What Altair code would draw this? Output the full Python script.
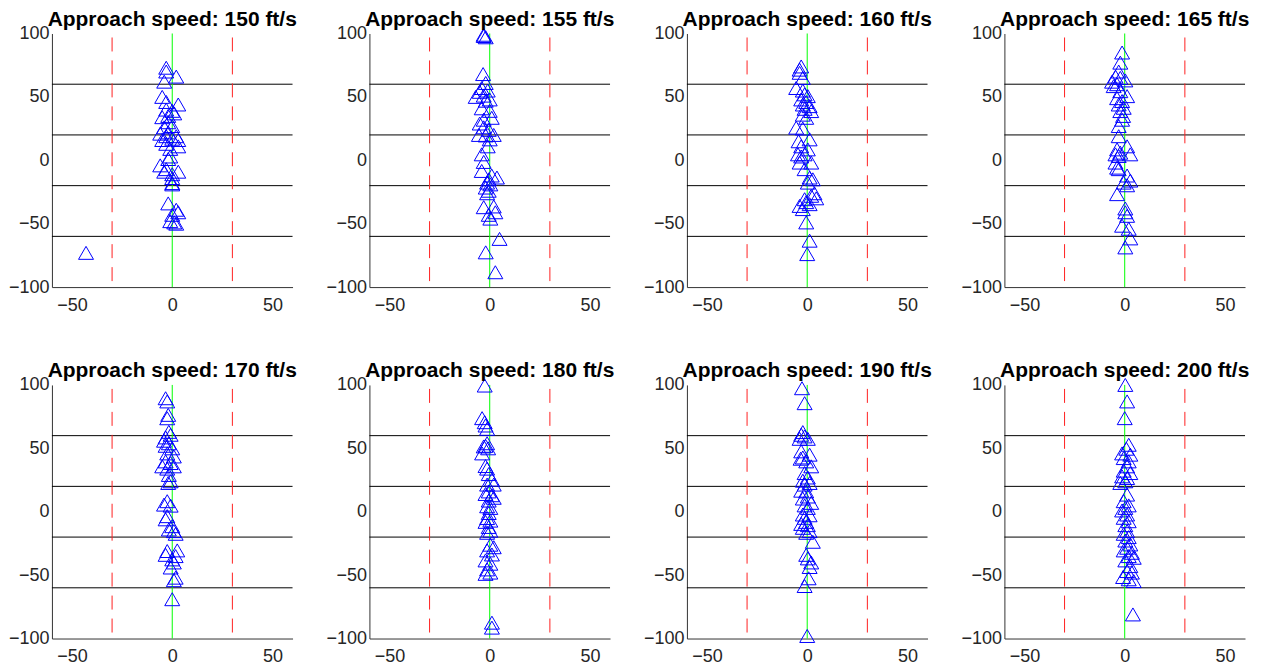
import altair as alt
import pandas as pd

SPEEDS = [150, 155, 160, 165, 170, 180, 190, 200]

X150 = [-3, -3, 2, -4, -5, -3, 3, -3, 0, 1, -5, -2, -2, -4, 0, -6, -2, -3, 2, 0, -5, 3, 3, -3, -1, -1, -2,
        -6, -3, -4, 3, 0, 0, 0, 0, -2, 2, 3, 0, -1, 1, 2, -43]
Y150 = [73, 70, 66, 62, 50, 46, 44, 40, 39, 37, 34, 35, 30, 26, 27, 21, 22, 19, 19, 17, 16, 16, 11, 13, 9, 3, 1,
        -4, -7, -9, -9, -11, -14, -18, -19, -34, -39, -41, -43, -48, -49, -50, -73]

X155 = [-3, -3, -2, -3.3, -2, -4, -5, -1, -7, -3, 0, -2, -4, 0, 1, -3, -5, -3, -0.5, -5.4, 2, -2, 0, -1, -4, -3,
        -4, 1, 3.6, -0.5, -1.3, 0.3, -2, -0.5, -1.3, -3, 2, 2.8, -0.5, 0.3, 4.9, -2, 2.8]
Y155 = [99, 98, 97, 68, 61, 57, 54, 55, 50, 51, 48, 47, 41, 39, 33.5, 32, 29, 26, 24, 20, 20, 19.6, 16.5, 11, 4.7,
        -1.3, -8.4, -12, -13.6, -15, -17.6, -19, -21.5, -24, -26, -37, -36.4, -41, -43, -46, -62, -72.6, -88.3]

X160 = [-3, -3.8, -3.8, -2.2, -5.5, -2.2, -1.3, 0.3, -3, -0.5, -2.2, 1.2, -1.3, 2, -2.2, -0.5, -5.5, -2.2, 1.2,
        -4.3, -3, 0.3, -4.6, -1.3, -3, 2, -3.8, -1.3, 1.2, 2.8, 0.3, 3.6, 2, 4.5, -1.3, -0.5, 1.2, -3.8, -2.2,
        -0.5, 1.2, 0]
Y160 = [74, 71.5, 69, 65, 57, 55, 52, 50.6, 48, 46, 44, 42.7, 40.6, 38.8, 36, 33.5, 25.7, 25, 16.5, 15, 11, 8.6,
        4.7, 4.7, 3, -1.8, -1.8, -7, -13.6, -15, -17.6, -26, -28, -30, -30.7, -33, -34.6, -36, -38.5, -49,
        -63.4, -74]

X165 = [-1.3, -2.2, -3, -4.6, -2.2, -6.3, 0.3, -3.8, -5.5, -2.2, 1.2, -3.8, -1.3, -3, -0.5, -2.2, -0.8, -1.3,
        -3, -3, 1.2, -3.8, 2.8, -2.2, -4.6, -3, -4.6, -3.8, -3, 1.2, 2.8, -0.5, 1.2, -3.8, 0.3, 0.3, 1.2, -1.3,
        2, 2.8, 0.3]
Y165 = [85, 77, 70, 66, 65, 62, 63, 60, 58.5, 54.5, 50.6, 49, 46.7, 44, 41.4, 38.8, 35, 32, 27, 19, 11, 8.6,
        4.7, 6, 4.7, 3.4, -1.8, -5.8, -7, -12, -16, -17.6, -19.7, -26.7, -38, -41, -43.8, -51.6, -54, -61.6,
        -68.7]

X170 = [-3.3, -2.5, -2, -2.5, -1.7, -0.8, -3.3, -4.1, -1.7, -3.3, 0, -2.5, 0.8, -3.3, -0.8, -5, 0.8, -2.5,
        -1.7, -0.8, -2, -2.5, -4.1, -0.8, -2.5, -3.3, 0, -1.7, 0.8, 1.7, 2.5, -2.5, -3.3, 1.7, 0, 0.8, -0.8,
        1.7, 0.8, 0]
Y170 = [89.5, 87, 76.4, 73.7, 63, 60.7, 58.6, 56, 54, 52, 50, 46, 43.6, 39.7, 38.4, 35.8, 35.8, 34, 29, 24,
        22.7, 8.3, 5.6, 4.8, -3.5, -6, -11.4, -14, -15.3, -17.4, -30.5, -31, -34, -35, -37.6, -40, -44, -52,
        -54, -69]

X180 = [-2.5, -3.8, -2.5, -2.1, -1.3, -1.3, -2.1, -0.8, -3, -3.8, -2.1, -1.3, -0.5, 1.1, 2, -1.3, -0.5, -2.1,
        1.1, 2, -0.5, -1.3, 0.3, -0.5, -1.3, 0.3, -2.1, -0.5, 0.3, -1.3, 0.3, 2, -1.3, 1.1, -2.1, 0.3, -1.3,
        0.3, -2.1, 1.1, 1.1]
Y180 = [99.5, 73.8, 70.6, 68, 65.4, 54, 52, 50, 51.5, 46, 36, 34, 29.7, 25.3, 21.4, 21.4, 16, 14, 13, 11, 8.8,
        4.3, 3, -1, -5, -7, -8, -12, -15, -16.6, -26, -28, -30.5, -33.7, -38.4, -41, -45.5, -48, -49, -87.5,
        -91.4]

X190 = [-2.6, -1.3, -2.2, -3, -1.3, -3.8, 0.3, -3, 1.2, -2.2, -3.3, -0.5, 2, -1.3, 0.3, -2.2, 1.2, -1.3, -3,
        -0.5, 0.3, -2.2, 2, -1.3, 0.3, -2.2, 1.2, -1.3, -0.5, -3, 0.3, -2.2, 1.2, -0.5, 2.8, -0.5, 0.3, 2, 1.2,
        0.7, -1.3, 0]
Y190 = [97.4, 85.6, 62.8, 60.7, 59.4, 57.5, 57.5, 47.6, 45, 42.8, 41.8, 39.7, 35.8, 30.5, 27, 24.5, 22.7, 21.4,
        16.6, 16, 12, 10.4, 7, 5, 3, -2.2, -2.8, -4.8, -8, -9.6, -10.6, -12.7, -15.3, -16.6, -23.7, -34, -36.8,
        -40, -43.6, -52.5, -58.6, -98]

X200 = [0.3, 1.2, 0, 2, 0.8, -1.3, 2.8, -0.5, 2, 1.2, -0.5, 2.8, -1.3, 1.2, 0.3, -2.2, 1.2, -0.5, 2, 0.3,
        -1.3, 1.2, -0.5, 2, 0.3, 1.2, -0.5, 2, 0.3, 2.8, 1.2, -0.5, 3.6, 2, 4.5, 0.3, 2.8, 1.2, 3.6, -0.8, 2,
        4.5, 4.1]
Y200 = [100, 87, 73.8, 52.8, 49.7, 46, 45, 42.3, 39.7, 35.8, 32.4, 30.5, 27.9, 26.6, 24, 22.7, 13.5, 8.3, 5, 3,
        1, -2.2, -4.8, -7.5, -10.6, -15.3, -17.4, -20, -22.7, -25.8, -28.4, -30.5, -32.4, -35, -36.3, -38.4,
        -42.9, -46.8, -48, -51.5, -53.3, -54.7, -81]

SERIES = {
    150: (X150, Y150), 155: (X155, Y155), 160: (X160, Y160), 165: (X165, Y165),
    170: (X170, Y170), 180: (X180, Y180), 190: (X190, Y190), 200: (X200, Y200),
}

H_LINES = [-60, -20, 20, 60]
RED_LINES = [-30, 30]
CENTER_LINE = [0]
X_DOMAIN = [-60, 60]
Y_DOMAIN = [-100, 100]
X_TICKS = [-50, 0, 50]
Y_TICKS = [-100, -50, 0, 50, 100]

xsc = alt.Scale(domain=X_DOMAIN, nice=False, zero=False)
ysc = alt.Scale(domain=Y_DOMAIN, nice=False, zero=False)
xax = alt.Axis(values=X_TICKS, title=None, labelPadding=9)
yax = alt.Axis(values=Y_TICKS, title=None, labelPadding=3)


def panel(speed):
    xs, ys = SERIES[speed]
    assert len(xs) == len(ys)
    pts = pd.DataFrame({"x": xs, "y": ys})
    hl = alt.Chart(pd.DataFrame({"y": H_LINES})).mark_rule(color="#000000", strokeWidth=1).encode(
        y=alt.Y("y:Q", scale=ysc, axis=yax)
    )
    red = alt.Chart(pd.DataFrame({"x": RED_LINES})).mark_rule(
        color="#ff2020", strokeWidth=1, strokeDash=[14, 9], strokeDashOffset=19
    ).encode(x=alt.X("x:Q", scale=xsc, axis=xax))
    green = alt.Chart(pd.DataFrame({"x": CENTER_LINE})).mark_rule(color="#00ff00", strokeWidth=1).encode(
        x=alt.X("x:Q", scale=xsc, axis=xax)
    )
    dots = alt.Chart(pts).mark_point(
        shape="triangle-up", size=225, filled=False, color="#0000ff", strokeWidth=1, opacity=1
    ).encode(
        x=alt.X("x:Q", scale=xsc, axis=xax),
        y=alt.Y("y:Q", scale=ysc, axis=yax),
    )
    return alt.layer(hl, red, green, dots).properties(
        width=241,
        height=254,
        title=alt.TitleParams(f"Approach speed: {speed} ft/s", anchor="middle"),
    )


chart = alt.concat(
    *[panel(s) for s in SPEEDS],
    columns=4,
    spacing={"row": 98, "column": 77},
    bounds="flush",
).properties(
    padding={"left": 0, "top": 0, "right": 5, "bottom": 5}
).configure_view(
    stroke=None
).configure_axis(
    grid=False,
    ticks=False,
    domainColor="#333333",
    domainWidth=1,
    labelFont="Liberation Sans",
    labelFontSize=18,
    labelColor="#262626",
).configure_title(
    font="Liberation Sans",
    fontSize=21,
    fontWeight="bold",
    color="#000000",
    offset=-5,
)

chart.save("out.html", embed_options={"renderer": "svg", "actions": False})
